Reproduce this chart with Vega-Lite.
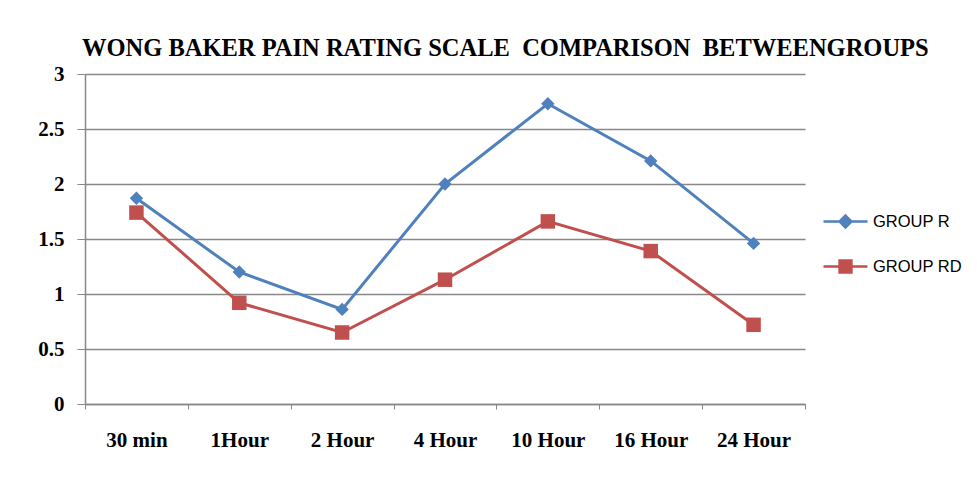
{
  "$schema": "https://vega.github.io/schema/vega-lite/v6.json",
  "width": 720,
  "height": 330,
  "autosize": {"type": "none"},
  "padding": {"left": 85, "top": 74, "right": 172, "bottom": 73},
  "background": "white",
  "title": {
    "text": "WONG BAKER PAIN RATING SCALE\u00a0\u00a0COMPARISON\u00a0\u00a0BETWEENGROUPS",
    "anchor": "start",
    "frame": "group",
    "font": "Liberation Serif",
    "fontWeight": "bold",
    "fontSize": 24.5,
    "color": "#000000",
    "offset": 2,
    "dx": -3
  },
  "data": {
    "values": [
      {"time": "30 min", "group": "GROUP R", "value": 1.87},
      {"time": "1Hour", "group": "GROUP R", "value": 1.2},
      {"time": "2 Hour", "group": "GROUP R", "value": 0.86},
      {"time": "4 Hour", "group": "GROUP R", "value": 2.0},
      {"time": "10 Hour", "group": "GROUP R", "value": 2.73},
      {"time": "16 Hour", "group": "GROUP R", "value": 2.21},
      {"time": "24 Hour", "group": "GROUP R", "value": 1.46},
      {"time": "30 min", "group": "GROUP RD", "value": 1.74},
      {"time": "1Hour", "group": "GROUP RD", "value": 0.92},
      {"time": "2 Hour", "group": "GROUP RD", "value": 0.65},
      {"time": "4 Hour", "group": "GROUP RD", "value": 1.13},
      {"time": "10 Hour", "group": "GROUP RD", "value": 1.66},
      {"time": "16 Hour", "group": "GROUP RD", "value": 1.39},
      {"time": "24 Hour", "group": "GROUP RD", "value": 0.72}
    ]
  },
  "encoding": {
    "x": {
      "field": "time",
      "type": "nominal",
      "sort": ["30 min", "1Hour", "2 Hour", "4 Hour", "10 Hour", "16 Hour", "24 Hour"],
      "scale": {"type": "band", "paddingInner": 0, "paddingOuter": 0},
      "axis": {
        "title": null,
        "labelAngle": 0,
        "labelFont": "Liberation Serif",
        "labelFontWeight": "bold",
        "labelFontSize": 21,
        "labelColor": "#000000",
        "labelPadding": 20,
        "tickBand": "extent",
        "tickSize": 5,
        "tickColor": "#888888",
        "domainColor": "#888888",
        "domainWidth": 1.5,
        "grid": false
      }
    },
    "y": {
      "field": "value",
      "type": "quantitative",
      "scale": {"domain": [0, 3], "nice": false},
      "axis": {
        "title": null,
        "values": [0, 0.5, 1, 1.5, 2, 2.5, 3],
        "format": "~g",
        "labelFont": "Liberation Serif",
        "labelFontWeight": "bold",
        "labelFontSize": 21,
        "labelColor": "#000000",
        "labelPadding": 13,
        "tickSize": 8,
        "tickColor": "#888888",
        "domainColor": "#888888",
        "domainWidth": 1.5,
        "gridColor": "#888888",
        "gridWidth": 1.5
      }
    },
    "color": {
      "field": "group",
      "type": "nominal",
      "scale": {"domain": ["GROUP R", "GROUP RD"], "range": ["#4F81BD", "#C0504D"]},
      "legend": {
        "title": null,
        "orient": "none",
        "legendX": 737,
        "legendY": 124,
        "labelFont": "Liberation Sans",
        "labelFontSize": 16.5,
        "labelColor": "#000000",
        "labelOffset": 4,
        "symbolSize": 1936,
        "symbolStrokeWidth": 2.5,
        "rowPadding": 10,
        "encode": {
          "symbols": {
            "update": {
              "shape": {"signal": "datum.value === 'GROUP R' ? 'M-1,0H1M0,-0.27L0.27,0L0,0.27L-0.27,0Z' : 'M-1,0H1M-0.27,-0.27H0.27V0.27H-0.27Z'"},
              "fill": {"signal": "datum.value === 'GROUP R' ? '#4F81BD' : '#C0504D'"},
              "stroke": {"signal": "datum.value === 'GROUP R' ? '#4F81BD' : '#C0504D'"},
              "fillOpacity": {"value": 1},
              "strokeWidth": {"value": 2.5}
            }
          }
        }
      }
    }
  },
  "layer": [
    {
      "mark": {"type": "line", "strokeWidth": 3}
    },
    {
      "mark": {"type": "point", "filled": true, "opacity": 1},
      "encoding": {
        "shape": {
          "condition": {"test": "datum.group === 'GROUP R'", "value": "diamond"},
          "value": "square"
        },
        "size": {
          "condition": {"test": "datum.group === 'GROUP R'", "value": 180},
          "value": 210
        }
      }
    }
  ],
  "config": {
    "view": {"stroke": null}
  }
}
